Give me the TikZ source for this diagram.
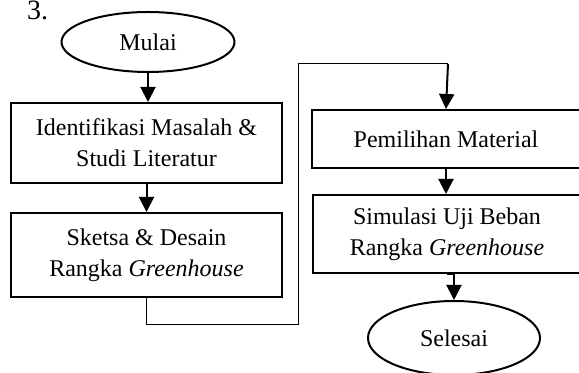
\documentclass[tikz,border=0pt]{standalone}
\usepackage{fontspec}
\setmainfont{Liberation Serif}
\newfontfamily\serifteks{Liberation Serif}
\usetikzlibrary{arrows.meta,shapes.geometric}
\begin{document}
\begin{tikzpicture}[x=0.5pt,y=-0.5pt,
      proses/.style={draw,line width=1pt,rectangle,align=center,font=\serifteks\fontsize{12}{15.5}\selectfont},
      terminal/.style={draw,line width=1pt,ellipse,inner sep=0pt,font=\serifteks\fontsize{12}{15.5}\selectfont},
      panah/.style={line width=1pt,-{Triangle[length=7.5pt,width=7.5pt]}},
      garis/.style={line width=0.5pt}]
      \useasboundingbox (0,0) rectangle (579,373);
      \clip (0,0) rectangle (579,373);
      \node[anchor=base west,font=\serifteks\fontsize{14}{16}\selectfont] (nomor) at (20,19.5) {3.};
      \node[terminal,minimum width=86.5pt,minimum height=30pt] (mulai) at (148,42) {Mulai};
      \node[proses,minimum width=135.5pt,minimum height=40pt] (identifikasi) at (146.5,143) {Identifikasi Masalah \&\\Studi Literatur};
      \node[proses,minimum width=135.5pt,minimum height=42pt] (sketsa) at (146.5,255) {Sketsa \& Desain\\Rangka \textit{Greenhouse}};
      \node[proses,minimum width=134pt,minimum height=29pt] (material) at (446,139) {Pemilihan Material};
      \node[proses,minimum width=134pt,minimum height=39pt] (simulasi) at (447,234) {Simulasi Uji Beban\\Rangka \textit{Greenhouse}};
      \node[terminal,minimum width=86pt,minimum height=37pt] (selesai) at (454,338) {Selesai};
      % sambungan antar kolom
      \coordinate (belok1) at (298,325);
      \coordinate (belok2) at (448,64);
      \draw[panah] (mulai.south) -- (mulai.south |- identifikasi.north);
      \draw[panah] (identifikasi.south) -- (identifikasi.south |- sketsa.north);
      \draw[garis] (sketsa.south) |- (belok1) |- (belok2);
      \draw[panah] (belok2) -- (material.north);
      \draw[panah] (material.south) -- (material.south |- simulasi.north);
      \draw[panah] (simulasi.south) -- (simulasi.south -| selesai.north) -- (selesai.north);
\end{tikzpicture}
\end{document}
